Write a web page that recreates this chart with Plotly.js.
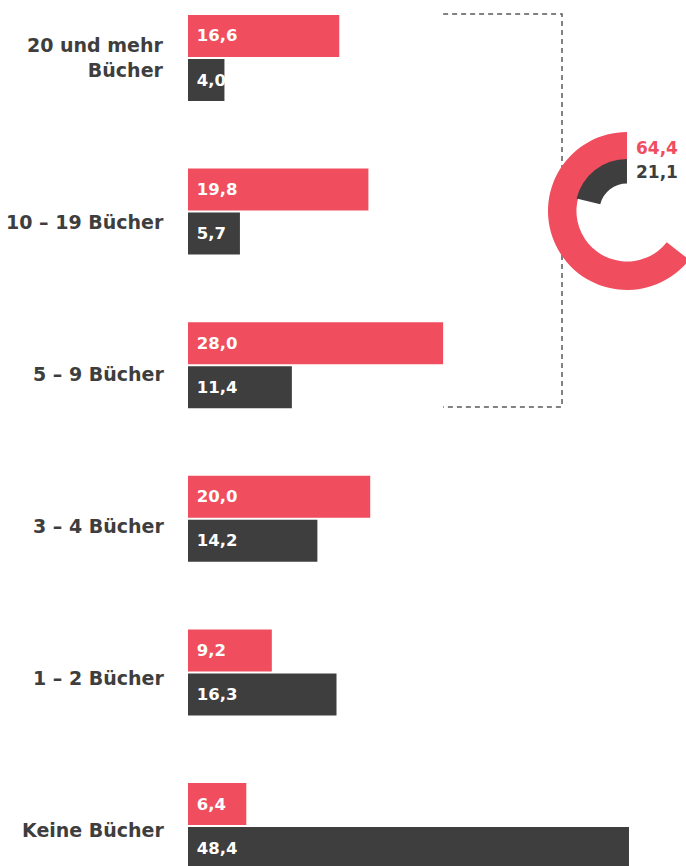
<!DOCTYPE html>
<html>
<head>
<meta charset="utf-8">
<script src="https://cdn.plot.ly/plotly-3.0.1.min.js"></script>
<style>
html,body{margin:0;padding:0;overflow:hidden;background:#fff;}
#wrap{width:686px;height:866px;overflow:hidden;}
#chart{width:720px;height:866px;}
</style>
</head>
<body>
<div id="wrap"><div id="chart"></div></div>
<script>
const categories = ['20 und mehr<br>Bücher', '10 – 19 Bücher', '5 – 9 Bücher', '3 – 4 Bücher', '1 – 2 Bücher', 'Keine Bücher'];
const redValues = [16.6, 19.8, 28.0, 20.0, 9.2, 6.4];
const darkValues = [4.0, 5.7, 11.4, 14.2, 16.3, 48.4];
const bracketCount = 3; // top three categories summarised in the donut

const RED = '#F04D5E';
const DARK = '#3E3E3E';
const CLEAR = 'rgba(0,0,0,0)';
const FONT = '"DejaVu Sans", sans-serif';

const redSum = redValues.slice(0, bracketCount).reduce((a, b) => a + b, 0);
const darkSum = darkValues.slice(0, bracketCount).reduce((a, b) => a + b, 0);

const barText = {family: FONT, size: 16.5, color: '#ffffff', weight: 700};

// the share is drawn counter-clockwise from 12 o'clock: remainder first, clockwise
const traces = [
  {type: 'bar', orientation: 'h', y: categories, x: redValues,
   marker: {color: RED}, texttemplate: '\u00a0%{x:.1f}', textposition: 'inside', textangle: 0,
   insidetextanchor: 'start', constraintext: 'none', textfont: barText, hoverinfo: 'skip'},
  {type: 'bar', orientation: 'h', y: categories, x: darkValues,
   marker: {color: DARK}, texttemplate: '\u00a0%{x:.1f}', textposition: 'inside', textangle: 0,
   insidetextanchor: 'start', constraintext: 'none', textfont: barText, hoverinfo: 'skip'},
  {type: 'pie', values: [100 - redSum, redSum], labels: ['rest-a', 'share-a'], sort: false, direction: 'clockwise',
   rotation: 0, hole: 0.64, textinfo: 'none', hoverinfo: 'skip', showlegend: false,
   marker: {colors: [CLEAR, RED], line: {width: 0}},
   domain: {x: [0.6767, 0.9737], y: [0.6651, 0.8476]}},
  {type: 'pie', values: [100 - darkSum, darkSum], labels: ['rest-b', 'share-b'], sort: false, direction: 'clockwise',
   rotation: 0, hole: 0.53, textinfo: 'none', hoverinfo: 'skip', showlegend: false,
   marker: {colors: [CLEAR, DARK], line: {width: 0}},
   domain: {x: [0.7274, 0.9229], y: [0.6963, 0.8164]}}
];

const annotations = categories.map((c, i) => ({
  xref: 'paper', yref: 'y', x: 0, y: c, xanchor: 'right', yanchor: 'middle',
  xshift: -22, yshift: c.includes('<br>') ? 1 : -12 + 1.6 * i, align: 'right', showarrow: false,
  text: c, font: {family: FONT, size: 19, color: DARK, weight: 700}
}));
const fmt = v => v.toFixed(1).replace('.', ',');
annotations.push({xref: 'paper', yref: 'paper', x: 0.8383, y: 0.8294, xanchor: 'left', yanchor: 'middle',
  showarrow: false, text: fmt(redSum), font: {family: FONT, size: 17, color: RED, weight: 700}});
annotations.push({xref: 'paper', yref: 'paper', x: 0.8383, y: 0.8017, xanchor: 'left', yanchor: 'middle',
  showarrow: false, text: fmt(darkSum), font: {family: FONT, size: 17, color: DARK, weight: 700}});

const bracketTop = -0.2865, bracketBottom = 2.272, bracketX = 41.05;
const bracketMaxValue = Math.max(...redValues.slice(0, bracketCount));

const layout = {
  width: 720, height: 866,
  margin: {l: 188, r: 0, t: 0, b: 0},
  paper_bgcolor: '#ffffff', plot_bgcolor: 'rgba(0,0,0,0)',
  separators: ',.',
  showlegend: false,
  barmode: 'group', bargap: 0.427, bargroupgap: 0.045,
  xaxis: {range: [0, 58.39], visible: false, fixedrange: true},
  yaxis: {type: 'category', categoryorder: 'array', categoryarray: categories,
          range: [5.2604, -0.3776], showticklabels: false, showgrid: false,
          zeroline: false, showline: false, ticks: '', fixedrange: true},
  shapes: [{
    type: 'path', layer: 'below', xref: 'x', yref: 'y',
    path: `M ${bracketMaxValue} ${bracketTop} L ${bracketX} ${bracketTop} L ${bracketX} ${bracketBottom} L ${bracketMaxValue} ${bracketBottom}`,
    line: {color: '#5a5a5a', width: 1.5, dash: '5px,4px'}
  }],
  annotations: annotations,
  font: {family: FONT}
};

Plotly.newPlot('chart', traces, layout, {displayModeBar: false, staticPlot: true});
</script>
</body>
</html>
